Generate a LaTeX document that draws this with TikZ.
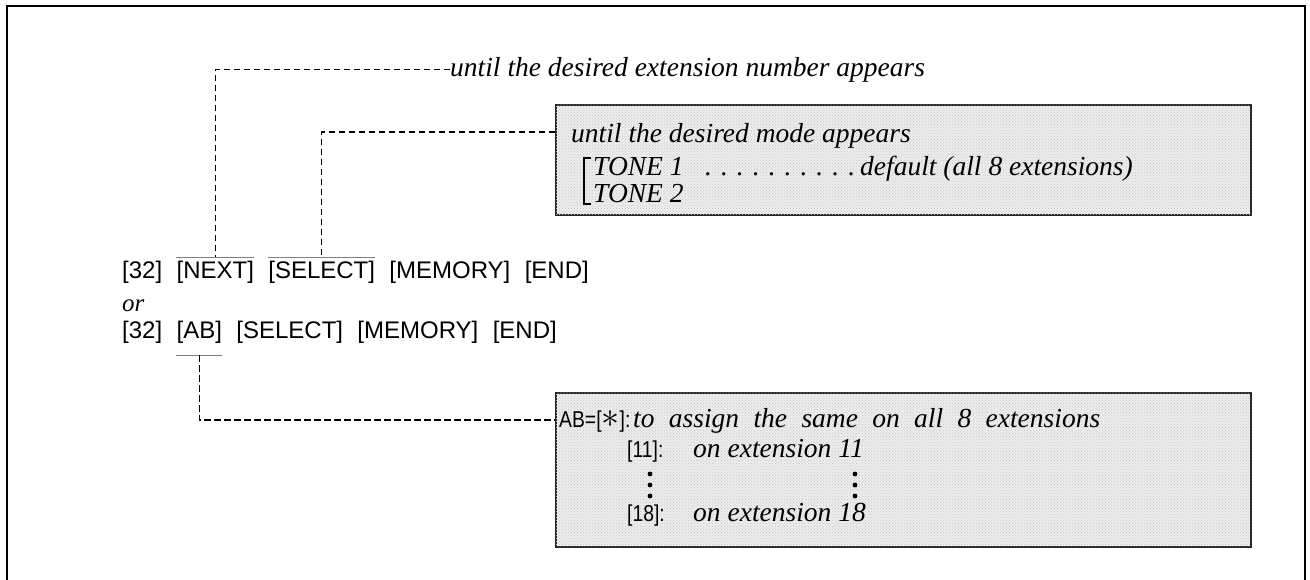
\documentclass[tikz,border=0pt]{standalone}
\usepackage{fontspec}
\setmainfont{Liberation Serif}
\newfontfamily\keyfont{Liberation Sans}
\newfontfamily\keyfontc{Liberation Sans}[FakeStretch=0.84]
\usetikzlibrary{calc,patterns}
\begin{document}
\begin{tikzpicture}[x=1pt,y=-1pt,
  key/.style={font=\keyfont\fontsize{24}{28}\selectfont, inner sep=0pt, anchor=base west},
  boxkey/.style={font=\keyfontc\fontsize{23}{27}\selectfont, inner sep=0pt, anchor=base west},
  note/.style={font=\itshape\fontsize{27.5}{32}\selectfont, inner sep=0pt, anchor=base west},
  smallnote/.style={font=\itshape\fontsize{25}{30}\selectfont, inner sep=0pt, anchor=base west},
  dashline/.style={dash pattern=on 6.5pt off 3.5pt, line width=1.3pt},
  bar/.style={line width=1.3pt, black!50},
  infobox/.style={draw=black!85, line width=1.8pt, fill=black!7, minimum width=695pt, anchor=north west, inner sep=0pt,
    postaction={pattern=crosshatch dots, pattern color=black!22}},
  frame/.style={line width=2.4pt}]
\useasboundingbox (0,0) rectangle (1310,579);
\draw[frame] (7,600) -- (7,6) -- (1305,6) -- (1305,600);

% boxes
\node[infobox, minimum height=110pt] (box1) at (555,104) {};
\node[infobox, minimum height=154pt] (box2) at (555,392) {};

% line 1
\node[key] (k32a) at (122,278) {[32]};
\node[key] (next) at ($(k32a.base east)+(14,0)$) {[NEXT]};
\node[key] (sel1) at ($(next.base east)+(14,0)$) {[SELECT]};
\node[key] (mem1) at ($(sel1.base east)+(14,0)$) {[MEMORY]};
\node[key] (end1) at ($(mem1.base east)+(14,0)$) {[END]};
\node[smallnote] (or) at (122,311) {or};
% line 2
\node[key] (k32b) at (122,338) {[32]};
\node[key] (ab) at ($(k32b.base east)+(14,0)$) {[AB]};
\node[key] (sel2) at ($(ab.base east)+(14,0)$) {[SELECT]};
\node[key] (mem2) at ($(sel2.base east)+(14,0)$) {[MEMORY]};
\node[key] (end2) at ($(mem2.base east)+(14,0)$) {[END]};

% over/under lines
\draw[bar] ($(next.north west)+(0,-3)$) -- ($(next.north east)+(0,-3)$);
\draw[bar] ($(sel1.north west)+(0,-3)$) -- ($(sel1.north east)+(0,-3)$);
\draw[bar] ($(ab.south west)+(0,12)$) -- ($(ab.south east)+(0,12)$);

% top note
\node[note] (t1) at (450,76) {until the desired extension number appears};
\coordinate (c1) at (next.north |- t1.west);
\draw[dashline] (t1.west) -- (c1) -- ($(next.north)+(0,-3)$);

% box 1 content
\node[note] (m1) at (571,142) {until the desired mode appears};
\node[note] (tone1) at (593,175) {TONE 1};
\node[note] (dots) at (705,175) {\makebox[150pt][s]{. . . . . . . . . .}};
\node[note, anchor=base east] (dflt) at (1133,175) {default (all 8 extensions)};
\node[note] (tone2) at (593,202) {TONE 2};
\draw[line width=1.8pt] (591,158) -- (584,158) -- (584,204) -- (591,204);
\draw[dashline] ($(box1.north west)+(0,28)$) -| ($(sel1.north)+(0,-3)$);

% box 2 content
\node[boxkey] (abast) at (559,427) {AB=[\scalebox{1.45}{$\ast$}]:};
\node[note] (assign) at (633,427) {\makebox[467pt][s]{to assign the same on all 8 extensions}};
\node[boxkey] (k11) at (627,457) {[11]:};
\node[note] (e11) at (693,457) {on extension 11};
\node[boxkey] (k18) at (627,521) {[18]:};
\node[note] (e18) at (693,521) {on extension 18};
\foreach \yy in {474,485,496} {
  \fill (650,\yy) circle (2.4pt);
  \fill (855,\yy) circle (2.4pt);
}
\draw[dashline] ($(ab.south)+(0,12)$) |- ($(box2.north west)+(0,28)$);
\end{tikzpicture}
\end{document}
